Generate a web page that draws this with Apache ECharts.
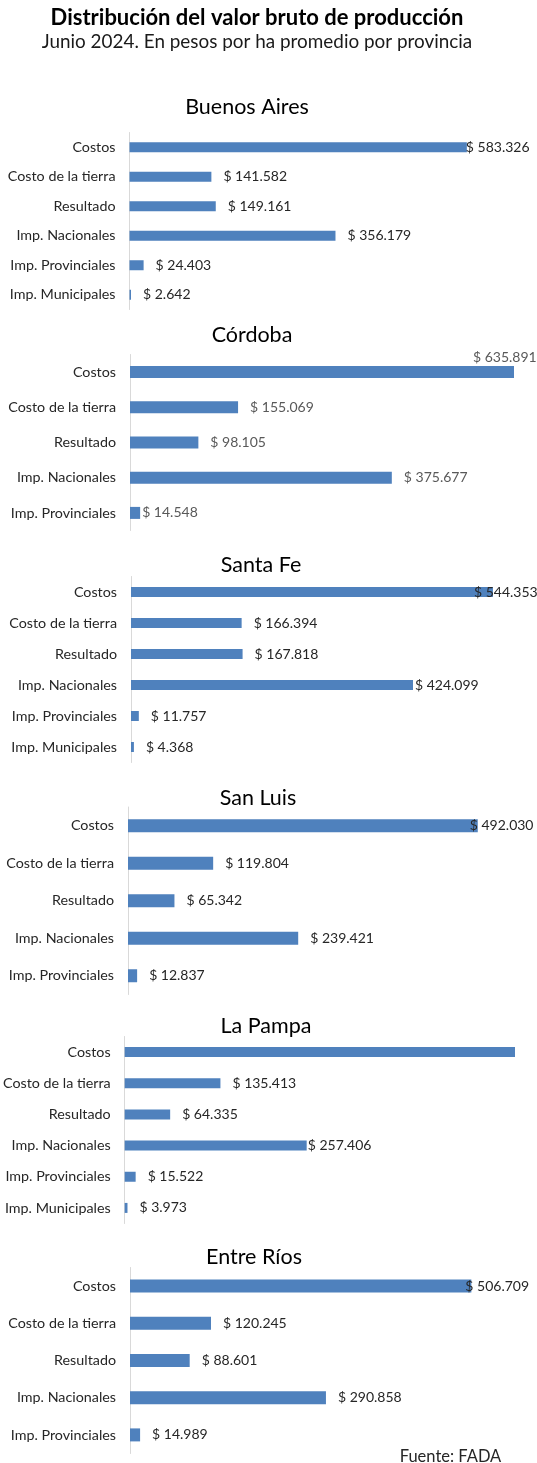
<!DOCTYPE html>
<html lang="es">
<head>
<meta charset="utf-8">
<title>Distribución del valor bruto de producción</title>
<script src="https://cdn.jsdelivr.net/npm/echarts@6/dist/echarts.min.js"></script>
<style>
  html, body { margin: 0; padding: 0; background: #fff; }
  #chart { width: 537px; height: 1463px; }
</style>
</head>
<body>
<div id="chart"></div>
<script>
const provincias = ['Buenos Aires', 'Córdoba', 'Santa Fe', 'San Luis', 'La Pampa', 'Entre Ríos']
const categorias = ['Costos', 'Costo de la tierra', 'Resultado', 'Imp. Nacionales', 'Imp. Provinciales', 'Imp. Municipales']

// pesos por ha promedio, junio 2024
const buenosAires = [583326, 141582, 149161, 356179, 24403, 2642]
const cordoba = [635891, 155069, 98105, 375677, 14548]
const santaFe = [544353, 166394, 167818, 424099, 11757, 4368]
const sanLuis = [492030, 119804, 65342, 239421, 12837]
const laPampa = [565000, 135413, 64335, 257406, 15522, 3973] // Costos: barra cortada en el original, sin etiqueta (estimado)
const entreRios = [506709, 120245, 88601, 290858, 14989]
const valores = [buenosAires, cordoba, santaFe, sanLuis, laPampa, entreRios]

// layout of each panel (px) and per-bar label nudges, keyed by category index
const paneles = [
  { titleX: 247, titleY: 107, left: 129.5, top: 132.5, width: 384, height: 177, max: 664000, bar: 10, labelColor: '#262626',
    ajustes: { 0: { distance: -1 } } },
  { titleX: 252, titleY: 335, left: 130, top: 354.5, width: 384, height: 176, max: 551000, bar: 12, labelColor: '#595959',
    ajustes: { 0: { distance: 0, offset: [-41, -14.5] }, 4: { distance: 2 } } },
  { titleX: 261, titleY: 565, left: 131, top: 576.5, width: 383, height: 186, max: 576000, bar: 10, labelColor: '#262626',
    ajustes: { 0: { distance: -19 }, 3: { distance: 2 } } },
  { titleX: 258, titleY: 798, left: 128, top: 807, width: 386, height: 187.5, max: 543000, bar: 13, labelColor: '#262626',
    ajustes: { 0: { distance: -8 } } },
  { titleX: 266, titleY: 1026, left: 122, top: 1036.5, width: 393, height: 187, max: 552000, bar: 10, labelColor: '#262626',
    ajustes: { 0: { show: false }, 3: { distance: 1 } } },
  { titleX: 254, titleY: 1257, left: 130, top: 1267.5, width: 384, height: 186, max: 570000, bar: 13, labelColor: '#262626',
    ajustes: { 0: { distance: -6 } } }
]

function pesos(v) {
  return '$ ' + String(v).replace(/\B(?=(\d{3})+(?!\d))/g, '.')
}

const chart = echarts.init(document.getElementById('chart'))

const option = {
  animation: false,
  backgroundColor: '#fff',
  title: [
    {
      text: 'Distribución del valor bruto de producción',
      left: 257, top: 17.5, textAlign: 'center', textVerticalAlign: 'middle', padding: 0,
      textStyle: { fontFamily: 'Lato', fontSize: 22, fontWeight: 'bold', color: '#000' }
    },
    {
      text: 'Junio 2024. En pesos por ha promedio por provincia',
      left: 257, top: 41.5, textAlign: 'center', textVerticalAlign: 'middle', padding: 0,
      textStyle: { fontFamily: 'Lato', fontSize: 18.9, fontWeight: 'normal', color: '#1a1a1a' }
    },
    {
      text: 'Fuente: FADA',
      left: 450.5, top: 1457, textAlign: 'center', textVerticalAlign: 'middle', padding: 0,
      textStyle: { fontFamily: 'Lato', fontSize: 16.5, fontWeight: 'normal', color: '#262626' }
    }
  ],
  grid: [],
  xAxis: [],
  yAxis: [],
  series: []
}

paneles.forEach((p, i) => {
  const n = valores[i].length
  option.title.push({
    text: provincias[i],
    left: p.titleX, top: p.titleY, textAlign: 'center', textVerticalAlign: 'middle', padding: 0,
    textStyle: { fontFamily: 'Lato', fontSize: 21.5, fontWeight: 'normal', color: '#000' }
  })
  option.grid.push({ left: p.left, top: p.top, width: p.width, height: p.height })
  option.xAxis.push({ gridIndex: i, type: 'value', min: 0, max: p.max, show: false, splitLine: { show: false } })
  option.yAxis.push({
    gridIndex: i,
    type: 'category',
    inverse: true,
    data: categorias.slice(0, n),
    axisLine: { lineStyle: { color: '#d9d9d9', width: 1 } },
    axisTick: { show: false },
    axisLabel: { margin: 14, fontFamily: 'Lato', fontSize: 14.3, color: '#262626' }
  })
  option.series.push({
    name: provincias[i],
    type: 'bar',
    xAxisIndex: i,
    yAxisIndex: i,
    barWidth: p.bar,
    itemStyle: { color: '#4f81bd' },
    label: {
      show: true,
      position: 'right',
      distance: 12,
      formatter: d => pesos(d.value),
      fontFamily: 'Lato',
      fontSize: 14,
      color: p.labelColor
    },
    data: valores[i].map((v, j) => (p.ajustes[j] ? { value: v, label: p.ajustes[j] } : v))
  })
})

chart.setOption(option)
</script>
</body>
</html>
